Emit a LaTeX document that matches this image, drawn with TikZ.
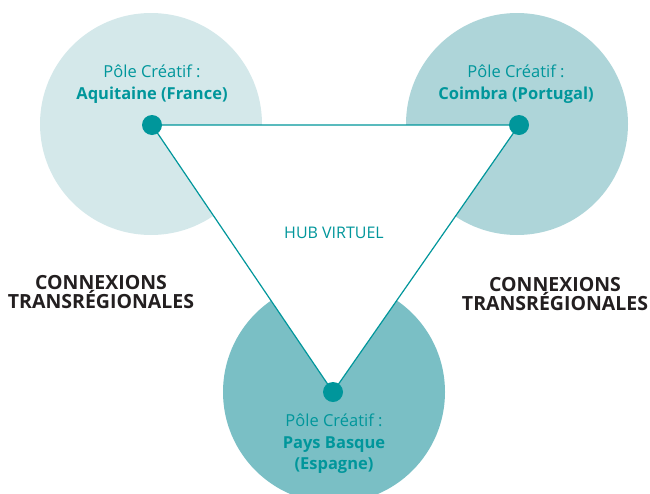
\documentclass[tikz,border=0pt]{standalone}
\usepackage{fontspec}
\setmainfont{Open Sans}
\definecolor{teal1}{HTML}{00969B}
\definecolor{cA}{HTML}{D4E8EA}
\definecolor{cB}{HTML}{AED5D9}
\definecolor{cC}{HTML}{7ABFC5}
\definecolor{darktxt}{HTML}{231F20}
\begin{document}
\begin{tikzpicture}[x=1pt,y=-1pt,
  pole/.style={circle,minimum size=222pt,inner sep=0pt},
  hub/.style={circle,fill=teal1,minimum size=20pt,inner sep=0pt},
  title/.style={text=teal1,font=\fontsize{16.5}{21.5}\selectfont,align=center,inner sep=0pt},
  conn/.style={text=darktxt,font=\fontsize{19.5}{19.5}\selectfont\bfseries,align=center,inner sep=0pt}]
\useasboundingbox (0,0) rectangle (650,493);
\clip (0,0) rectangle (650,493);
\node[pole,fill=cA] (cA) at (151,124) {};
\node[pole,fill=cB] (cB) at (517,124) {};
\node[pole,fill=cC] (cC) at (334,392) {};
\coordinate (pA) at (152,125);
\coordinate (pB) at (519,125);
\coordinate (pC) at (333,392);
\draw[teal1,line width=1.2pt,fill=white] (pA) -- (pB) -- (pC) -- cycle;
\node[hub] (hA) at (pA) {};
\node[hub] (hB) at (pB) {};
\node[hub] (hC) at (pC) {};
\node[title] (tA) at (152,84) {Pôle Créatif :\\\textbf{Aquitaine (France)}};
\node[title] (tB) at (516,84) {Pôle Créatif :\\\textbf{Coimbra (Portugal)}};
\node[title] (tC) at (334,444) {Pôle Créatif :\\\textbf{Pays Basque}\\\textbf{(Espagne)}};
\node[text=teal1,font=\fontsize{16}{18}\selectfont,inner sep=0pt] (hub) at (334,233) {HUB VIRTUEL};
\node[conn] (kL) at (101,292) {CONNEXIONS\\TRANSRÉGIONALES};
\node[conn] (kR) at (555,294) {CONNEXIONS\\TRANSRÉGIONALES};
\end{tikzpicture}
\end{document}
